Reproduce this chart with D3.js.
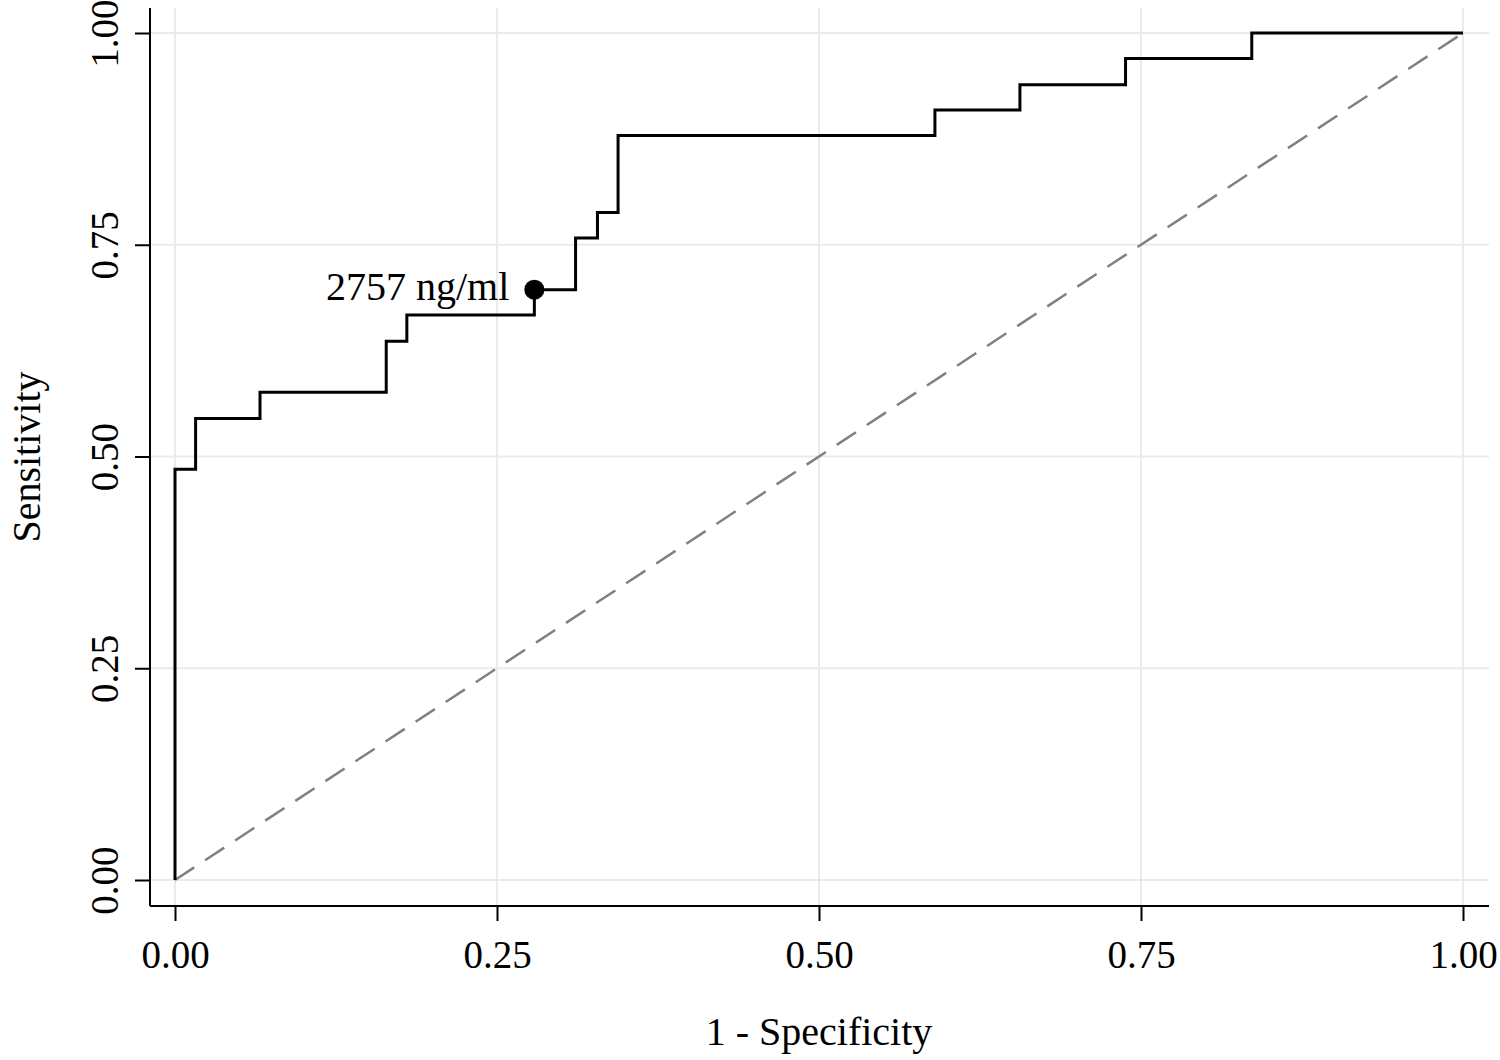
<!DOCTYPE html>
<html>
<head>
<meta charset="utf-8">
<script src="https://cdn.jsdelivr.net/npm/d3@7"></script>
<style>
    body { margin: 0; background: #fff; }
    text { font-family: "Liberation Serif", "Times New Roman", serif; fill: #000; }
</style>
</head>
<body>
<script>
// ROC curve corners (1 - specificity, sensitivity)
var fpr = [0, 0, 0.016, 0.066, 0.164, 0.180, 0.279, 0.311, 0.328, 0.344, 0.590, 0.656, 0.738, 0.836, 1.0];
var tpr = [0, 0.485, 0.545, 0.576, 0.636, 0.667, 0.697, 0.758, 0.788, 0.879, 0.909, 0.939, 0.970, 1.0, 1.0];
var cutoff = { x: 0.279, y: 0.697, label: "2757 ng/ml" };
var ticks = [0, 0.25, 0.5, 0.75, 1];
var tickLabels = ["0.00", "0.25", "0.50", "0.75", "1.00"];

var w = 1500, h = 1060;
var panel = { left: 150, right: 1489, top: 8, bottom: 906 };   // plot frame

var svg = d3.select("body").append("svg")
    .attr("width", w)
    .attr("height", h);

var x = d3.scaleLinear().domain([0, 1]).range([175, 1463]);
var y = d3.scaleLinear().domain([0, 1]).range([880, 33]);

// grid
svg.append("g").selectAll("line.vg")
    .data(ticks).enter().append("line")
    .attr("x1", d => x(d)).attr("x2", d => x(d))
    .attr("y1", panel.top).attr("y2", panel.bottom)
    .style("stroke", "#ebebeb").style("stroke-width", 2);
svg.append("g").selectAll("line.hg")
    .data(ticks).enter().append("line")
    .attr("y1", d => y(d)).attr("y2", d => y(d))
    .attr("x1", panel.left).attr("x2", panel.right)
    .style("stroke", "#ebebeb").style("stroke-width", 2);

// reference diagonal
svg.append("line")
    .attr("x1", x(0)).attr("y1", y(0))
    .attr("x2", x(1)).attr("y2", y(1))
    .style("stroke", "#808080")
    .style("stroke-width", 2.5)
    .style("stroke-dasharray", "23,13");

// ROC step line
var pts = fpr.map((d, i) => [d, tpr[i]]);
var line = d3.line()
    .x(d => x(d[0]))
    .y(d => y(d[1]))
    .curve(d3.curveStepAfter);
svg.append("path")
    .datum(pts)
    .attr("d", line)
    .style("fill", "none")
    .style("stroke", "#000")
    .style("stroke-width", 3);

// cutoff point and label
svg.append("circle")
    .attr("cx", x(cutoff.x)).attr("cy", y(cutoff.y))
    .attr("r", 10)
    .style("fill", "#000");
svg.append("text")
    .attr("x", x(cutoff.x) - 25)
    .attr("y", y(cutoff.y) + 10)
    .attr("text-anchor", "end")
    .style("font-size", "40px")
    .text(cutoff.label);

// axes
var xAxis = d3.axisBottom(x).tickValues(ticks)
    .tickFormat((d, i) => tickLabels[i])
    .tickSize(15).tickPadding(19);
var gx = svg.append("g")
    .attr("transform", "translate(0," + panel.bottom + ")")
    .call(xAxis);
gx.select(".domain").remove();
gx.selectAll(".tick line").style("stroke", "#000").style("stroke-width", 2);
gx.selectAll(".tick text").style("font-size", "39px").style("font-family", "Liberation Serif");

var yAxis = d3.axisLeft(y).tickValues(ticks)
    .tickFormat((d, i) => tickLabels[i])
    .tickSize(15);
var gy = svg.append("g")
    .attr("transform", "translate(" + panel.left + ",0)")
    .call(yAxis);
gy.select(".domain").remove();
gy.selectAll(".tick line").style("stroke", "#000").style("stroke-width", 2);
gy.selectAll(".tick text")
    .attr("x", 0).attr("y", -32).attr("dy", 0)
    .attr("transform", "rotate(-90)")
    .attr("text-anchor", "middle")
    .style("font-size", "39px").style("font-family", "Liberation Serif");

// axis lines
svg.append("line")
    .attr("x1", panel.left).attr("x2", panel.right)
    .attr("y1", panel.bottom).attr("y2", panel.bottom)
    .style("stroke", "#000").style("stroke-width", 2);
svg.append("line")
    .attr("x1", panel.left).attr("x2", panel.left)
    .attr("y1", panel.top).attr("y2", panel.bottom)
    .style("stroke", "#000").style("stroke-width", 2);

// axis titles
svg.append("text")
    .attr("x", (x(0) + x(1)) / 2)
    .attr("y", 1045)
    .attr("text-anchor", "middle")
    .style("font-size", "40px")
    .text("1 - Specificity");
svg.append("text")
    .attr("transform", "translate(40," + (panel.top + panel.bottom) / 2 + ") rotate(-90)")
    .attr("text-anchor", "middle")
    .style("font-size", "40px")
    .text("Sensitivity");
</script>
</body>
</html>
